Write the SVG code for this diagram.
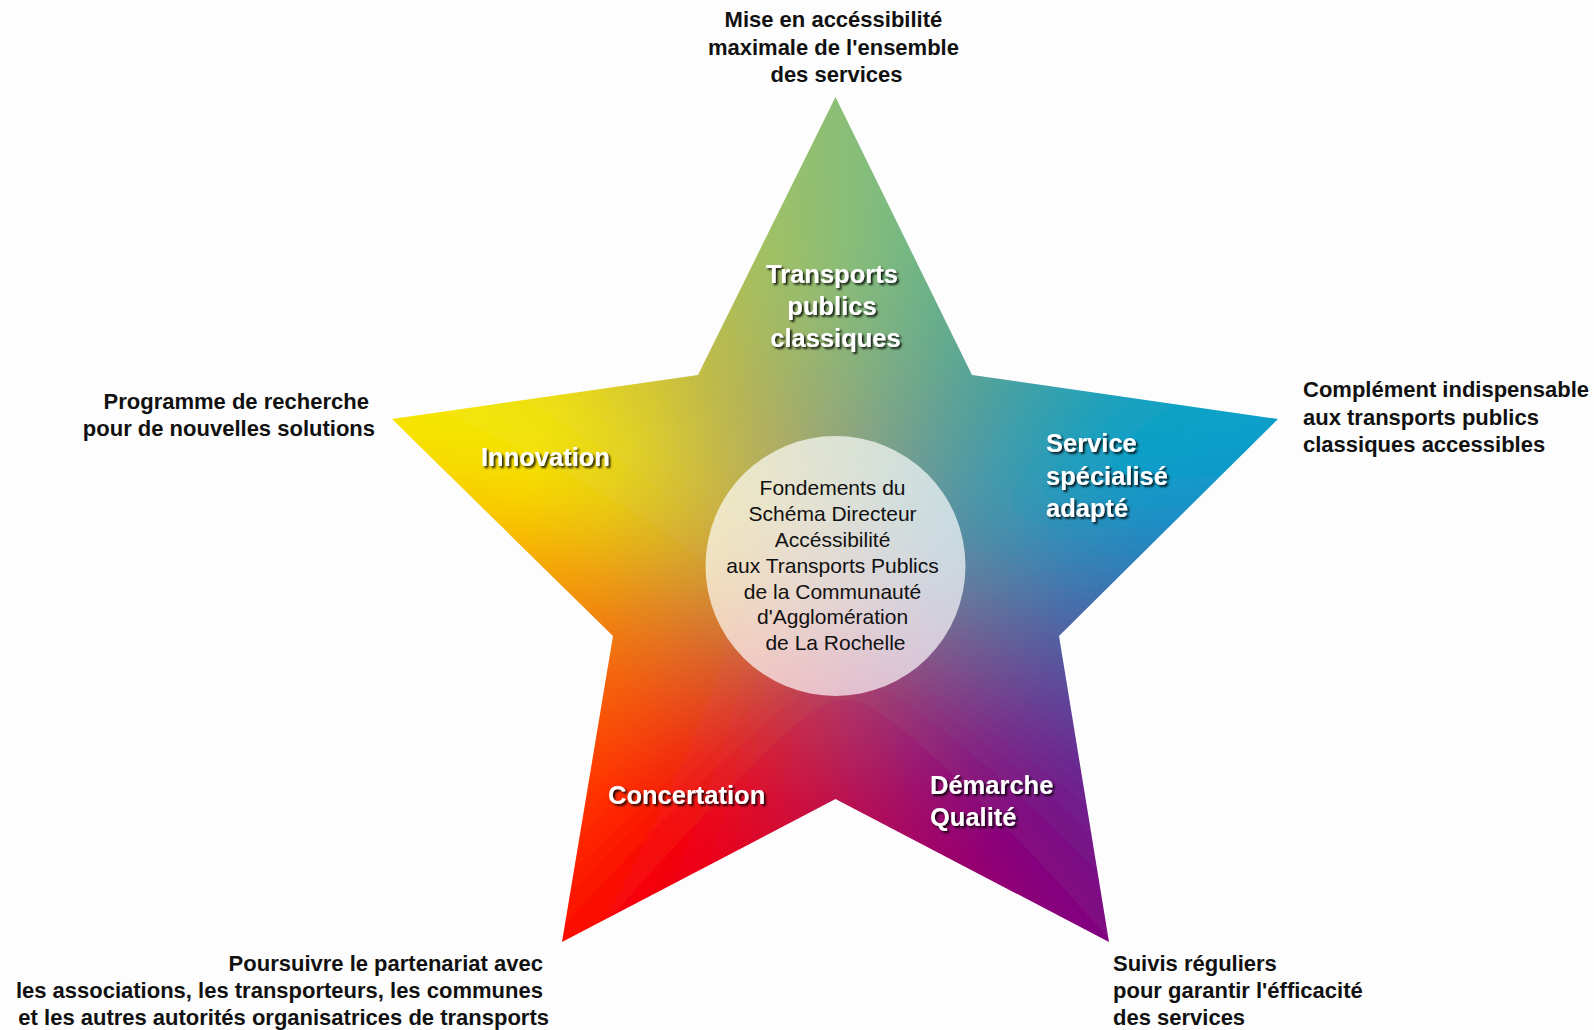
<svg xmlns="http://www.w3.org/2000/svg" width="1594" height="1030" viewBox="0 0 1594 1030">
  <style>
    .lbl { font-family: "Liberation Sans", Arial, sans-serif; font-weight: 700; font-size: 22px; fill: #111; }
    .in { font-family: "Liberation Sans", Arial, sans-serif; font-weight: 700; font-size: 25.5px; fill: #fff; filter: url(#shadow); }
    .ctr { font-family: "Liberation Sans", Arial, sans-serif; font-size: 21px; fill: #111; text-anchor: middle; }
    .w polygon { stroke-width: 5; stroke-linejoin: round; }
  </style>
  <defs>
    <filter id="blur" filterUnits="userSpaceOnUse" x="200" y="-100" width="1270" height="1240">
      <feGaussianBlur stdDeviation="50"/>
    </filter>
    <filter id="shadow" x="-10%" y="-20%" width="130%" height="160%">
      <feDropShadow dx="2" dy="2" stdDeviation="1" flood-color="#000" flood-opacity="0.85"/>
    </filter>
    <clipPath id="starClip">
      <polygon points="835.5,97 972,375 1278,419 1059,636 1109,942 835.5,799 562,942 613,636 392,419 698,375"/>
    </clipPath>
    <radialGradient id="mud" gradientUnits="userSpaceOnUse" cx="835.5" cy="565" r="320">
      <stop offset="0" stop-color="#978a80" stop-opacity="0.6"/>
      <stop offset="0.4" stop-color="#978a80" stop-opacity="0.4"/>
      <stop offset="0.75" stop-color="#978a80" stop-opacity="0.12"/>
      <stop offset="1" stop-color="#978a80" stop-opacity="0"/>
    </radialGradient>
  </defs>
  <rect width="1594" height="1030" fill="#fdfdfd"/>

  <g id="star" clip-path="url(#starClip)">
    <g class="w" filter="url(#blur)">
      <polygon points="835.5,565 1832.4,643.5 1832.4,486.5" fill="#2a7cbc" stroke="#2a7cbc"/>
      <polygon points="835.5,565 1832.4,486.5 1807.9,331.6" fill="#1590c6" stroke="#1590c6"/>
      <polygon points="835.5,565 1807.9,331.6 1759.4,182.3" fill="#00a4d0" stroke="#00a4d0"/>
      <polygon points="835.5,565 1759.4,182.3 1688.1,42.5" fill="#11a2c2" stroke="#11a2c2"/>
      <polygon points="835.5,565 1688.1,42.5 1595.9,-84.5" fill="#22a0b4" stroke="#22a0b4"/>
      <polygon points="835.5,565 1595.9,-84.5 1484.9,-195.4" fill="#35a2a7" stroke="#35a2a7"/>
      <polygon points="835.5,565 1484.9,-195.4 1358,-287.6" fill="#48a49a" stroke="#48a49a"/>
      <polygon points="835.5,565 1358,-287.6 1218.2,-358.9" fill="#58ac91" stroke="#58ac91"/>
      <polygon points="835.5,565 1218.2,-358.9 1069,-407.4" fill="#68b488" stroke="#68b488"/>
      <polygon points="835.5,565 1069,-407.4 914,-431.9" fill="#7aba80" stroke="#7aba80"/>
      <polygon points="835.5,565 914,-431.9 757,-431.9" fill="#8cc078" stroke="#8cc078"/>
      <polygon points="835.5,565 757,-431.9 602,-407.4" fill="#9ac068" stroke="#9ac068"/>
      <polygon points="835.5,565 602,-407.4 452.8,-358.9" fill="#a8c058" stroke="#a8c058"/>
      <polygon points="835.5,565 452.8,-358.9 313,-287.6" fill="#b8bf48" stroke="#b8bf48"/>
      <polygon points="835.5,565 313,-287.6 186.1,-195.4" fill="#c8be38" stroke="#c8be38"/>
      <polygon points="835.5,565 186.1,-195.4 75.1,-84.5" fill="#d7c92a" stroke="#d7c92a"/>
      <polygon points="835.5,565 75.1,-84.5 -17.1,42.5" fill="#e6d41c" stroke="#e6d41c"/>
      <polygon points="835.5,565 -17.1,42.5 -88.4,182.3" fill="#efe20e" stroke="#efe20e"/>
      <polygon points="835.5,565 -88.4,182.3 -136.9,331.6" fill="#f8f000" stroke="#f8f000"/>
      <polygon points="835.5,565 -136.9,331.6 -161.4,486.5" fill="#f8c800" stroke="#f8c800"/>
      <polygon points="835.5,565 -161.4,486.5 -161.4,643.5" fill="#f8a000" stroke="#f8a000"/>
      <polygon points="835.5,565 -161.4,643.5 -136.9,798.4" fill="#fc8800" stroke="#fc8800"/>
      <polygon points="835.5,565 -136.9,798.4 -88.4,947.7" fill="#ff7000" stroke="#ff7000"/>
      <polygon points="835.5,565 -88.4,947.7 -17.1,1087.5" fill="#ff5d00" stroke="#ff5d00"/>
      <polygon points="835.5,565 -17.1,1087.5 75.1,1214.5" fill="#ff4a00" stroke="#ff4a00"/>
      <polygon points="835.5,565 75.1,1214.5 186.1,1325.4" fill="#ff2500" stroke="#ff2500"/>
      <polygon points="835.5,565 186.1,1325.4 313,1417.6" fill="#ff0000" stroke="#ff0000"/>
      <polygon points="835.5,565 313,1417.6 452.8,1488.9" fill="#f2000f" stroke="#f2000f"/>
      <polygon points="835.5,565 452.8,1488.9 602,1537.4" fill="#e4001e" stroke="#e4001e"/>
      <polygon points="835.5,565 602,1537.4 757,1561.9" fill="#d4002e" stroke="#d4002e"/>
      <polygon points="835.5,565 757,1561.9 914,1561.9" fill="#c4003e" stroke="#c4003e"/>
      <polygon points="835.5,565 914,1561.9 1069,1537.4" fill="#b30052" stroke="#b30052"/>
      <polygon points="835.5,565 1069,1537.4 1218.2,1488.9" fill="#a20066" stroke="#a20066"/>
      <polygon points="835.5,565 1218.2,1488.9 1358,1417.6" fill="#910073" stroke="#910073"/>
      <polygon points="835.5,565 1358,1417.6 1484.9,1325.4" fill="#800080" stroke="#800080"/>
      <polygon points="835.5,565 1484.9,1325.4 1595.9,1214.5" fill="#72158b" stroke="#72158b"/>
      <polygon points="835.5,565 1595.9,1214.5 1688.1,1087.5" fill="#642a96" stroke="#642a96"/>
      <polygon points="835.5,565 1688.1,1087.5 1759.4,947.7" fill="#553f9c" stroke="#553f9c"/>
      <polygon points="835.5,565 1759.4,947.7 1807.9,798.4" fill="#4654a2" stroke="#4654a2"/>
      <polygon points="835.5,565 1807.9,798.4 1832.4,643.5" fill="#3868af" stroke="#3868af"/>
    </g>
    <rect x="380" y="90" width="910" height="860" fill="url(#mud)"/>
  </g>

  <g id="center">
    <circle cx="835.5" cy="566" r="130" fill="#ffffff" fill-opacity="0.68"/>
    <text class="ctr">
      <tspan x="835.5" y="495">Fondements du</tspan>
      <tspan x="835.5" y="521">Schéma Directeur</tspan>
      <tspan x="835.5" y="547">Accéssibilité</tspan>
      <tspan x="835.5" y="573">aux Transports Publics</tspan>
      <tspan x="835.5" y="599">de la Communauté</tspan>
      <tspan x="835.5" y="624">d'Agglomération</tspan>
      <tspan x="835.5" y="650">de La Rochelle</tspan>
    </text>
  </g>

  <g id="branch-top">
    <text class="in" text-anchor="middle">
      <tspan x="835.5" y="283">Transports</tspan>
      <tspan x="835.5" y="315">publics</tspan>
      <tspan x="835.5" y="347">classiques</tspan>
    </text>
    <text class="lbl" text-anchor="middle">
      <tspan x="836.5" y="27">Mise en accéssibilité</tspan>
      <tspan x="836.5" y="54.5">maximale de l'ensemble</tspan>
      <tspan x="836.5" y="82">des services</tspan>
    </text>
  </g>

  <g id="branch-left">
    <text class="in" x="481" y="466">Innovation</text>
    <text class="lbl" text-anchor="end">
      <tspan x="375" y="409">Programme de recherche</tspan>
      <tspan x="375" y="436">pour de nouvelles solutions</tspan>
    </text>
  </g>

  <g id="branch-right">
    <text class="in">
      <tspan x="1046" y="452">Service</tspan>
      <tspan x="1046" y="485">spécialisé</tspan>
      <tspan x="1046" y="517">adapté</tspan>
    </text>
    <text class="lbl">
      <tspan x="1303" y="397">Complément indispensable</tspan>
      <tspan x="1303" y="424.5">aux transports publics</tspan>
      <tspan x="1303" y="452">classiques accessibles</tspan>
    </text>
  </g>

  <g id="branch-bottom-left">
    <text class="in" x="608" y="804">Concertation</text>
    <text class="lbl" text-anchor="end">
      <tspan x="549" y="971">Poursuivre le partenariat avec</tspan>
      <tspan x="549" y="998">les associations, les transporteurs, les communes</tspan>
      <tspan x="549" y="1025">et les autres autorités organisatrices de transports</tspan>
    </text>
  </g>

  <g id="branch-bottom-right">
    <text class="in">
      <tspan x="930" y="794">Démarche</tspan>
      <tspan x="930" y="826">Qualité</tspan>
    </text>
    <text class="lbl">
      <tspan x="1113" y="971">Suivis réguliers</tspan>
      <tspan x="1113" y="998">pour garantir l'éfficacité</tspan>
      <tspan x="1113" y="1025">des services</tspan>
    </text>
  </g>

  <g id="connectors"/>
</svg>
